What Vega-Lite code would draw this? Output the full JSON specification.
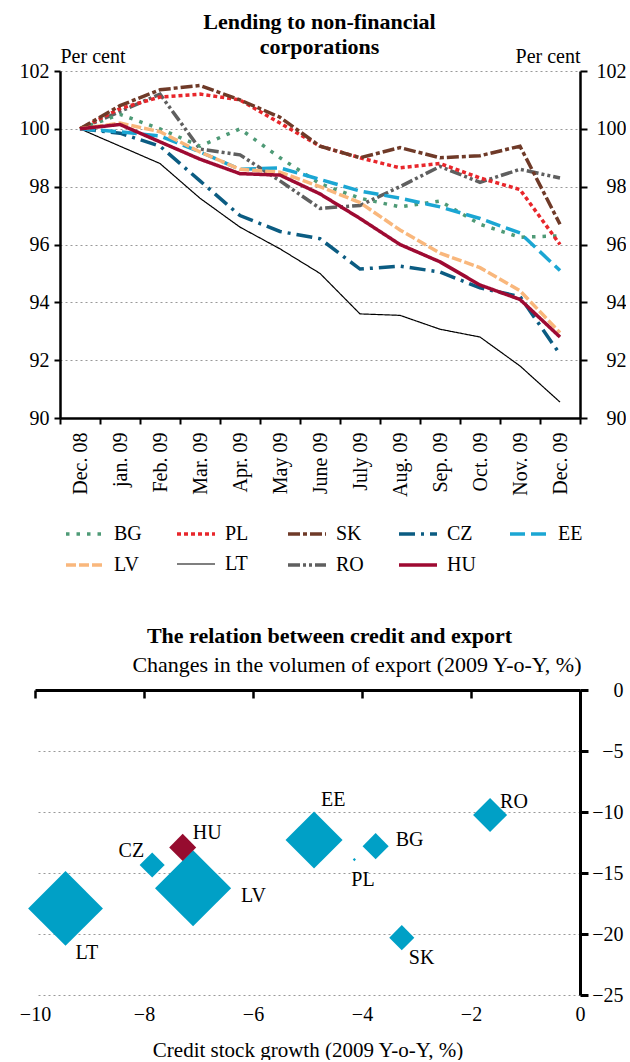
{
  "$schema": "https://vega.github.io/schema/vega-lite/v6.json",
  "padding": {"left": 19, "top": 11, "right": 0, "bottom": 0},
  "autosize": {"type": "pad"},
  "config": {
    "font": "Liberation Serif",
    "view": {"stroke": null},
    "axis": {
      "labelFontSize": 20, "titleFontSize": 20, "labelColor": "#000", "titleColor": "#000",
      "titleFontWeight": "normal", "domainColor": "#000", "tickColor": "#000",
      "gridColor": "#999", "gridDash": [2, 3], "gridWidth": 1, "labelFlush": false, "labelOverlap": false
    },
    "title": {"color": "#000", "font": "Liberation Serif"},
    "text": {"font": "Liberation Serif", "color": "#000"}
  },
  "datasets": {
    "lending": [
      {"month": "Dec. 08", "BG": 100, "PL": 100, "SK": 100, "CZ": 100, "EE": 100, "LV": 100, "LT": 100, "RO": 100, "HU": 100},
      {"month": "jan. 09", "BG": 100.5, "PL": 100.7, "SK": 100.8, "CZ": 99.85, "EE": 99.9, "LV": 100.2, "LT": 99.4, "RO": 100.6, "HU": 100.15},
      {"month": "Feb. 09", "BG": 100.0, "PL": 101.1, "SK": 101.35, "CZ": 99.4, "EE": 99.75, "LV": 99.9, "LT": 98.8, "RO": 101.2, "HU": 99.55},
      {"month": "Mar. 09", "BG": 99.4, "PL": 101.2, "SK": 101.5, "CZ": 98.2, "EE": 99.2, "LV": 99.2, "LT": 97.6, "RO": 99.3, "HU": 98.95},
      {"month": "Apr. 09", "BG": 100.0, "PL": 101.0, "SK": 101.0, "CZ": 97.0, "EE": 98.6, "LV": 98.6, "LT": 96.6, "RO": 99.1, "HU": 98.45},
      {"month": "May 09", "BG": 99.0, "PL": 100.2, "SK": 100.4, "CZ": 96.45, "EE": 98.65, "LV": 98.5, "LT": 95.85, "RO": 98.2, "HU": 98.4},
      {"month": "June 09", "BG": 98.1, "PL": 99.4, "SK": 99.4, "CZ": 96.2, "EE": 98.25, "LV": 98.0, "LT": 95.0, "RO": 97.25, "HU": 97.75},
      {"month": "July 09", "BG": 97.6, "PL": 99.0, "SK": 99.0, "CZ": 95.15, "EE": 97.85, "LV": 97.45, "LT": 93.6, "RO": 97.35, "HU": 96.9},
      {"month": "Aug. 09", "BG": 97.3, "PL": 98.65, "SK": 99.35, "CZ": 95.25, "EE": 97.6, "LV": 96.5, "LT": 93.55, "RO": 98.0, "HU": 96.0},
      {"month": "Sep. 09", "BG": 97.5, "PL": 98.8, "SK": 99.0, "CZ": 95.05, "EE": 97.3, "LV": 95.7, "LT": 93.07, "RO": 98.7, "HU": 95.4},
      {"month": "Oct. 09", "BG": 96.7, "PL": 98.3, "SK": 99.07, "CZ": 94.5, "EE": 96.9, "LV": 95.2, "LT": 92.8, "RO": 98.15, "HU": 94.6},
      {"month": "Nov. 09", "BG": 96.25, "PL": 97.9, "SK": 99.4, "CZ": 94.2, "EE": 96.4, "LV": 94.4, "LT": 91.8, "RO": 98.6, "HU": 94.1},
      {"month": "Dec. 09", "BG": 96.3, "PL": 96.0, "SK": 96.7, "CZ": 92.2, "EE": 95.1, "LV": 92.95, "LT": 90.55, "RO": 98.3, "HU": 92.8}
    ],
    "credit": [
      {"c": "LT", "credit": -9.44, "export": -17.9, "weight": 56},
      {"c": "LV", "credit": -7.1, "export": -16.25, "weight": 58},
      {"c": "CZ", "credit": -7.85, "export": -14.35, "weight": 6.3},
      {"c": "EE", "credit": -4.88, "export": -12.3, "weight": 32.5},
      {"c": "PL", "credit": -4.14, "export": -13.9, "weight": 0.1},
      {"c": "BG", "credit": -3.75, "export": -12.8, "weight": 6.8},
      {"c": "SK", "credit": -3.27, "export": -20.3, "weight": 6.3},
      {"c": "RO", "credit": -1.65, "export": -10.25, "weight": 11.6},
      {"c": "HU", "credit": -7.29, "export": -12.9, "weight": 7.3}
    ]
  },
  "spacing": 128,
  "columns": 1,
  "align": "none",
  "concat": [
    {
      "width": 545,
      "height": 347,
      "title": {"text": ["Lending to non-financial", "corporations"], "fontSize": 22, "fontWeight": "bold", "lineHeight": 25, "anchor": "middle", "frame": "group", "offset": -13, "dx": 12},
      "data": {"name": "lending"},
      "transform": [{"fold": ["LT", "RO", "BG", "PL", "SK", "CZ", "EE", "LV", "HU"], "as": ["country", "value"]}],
      "encoding": {
        "x": {"field": "month", "type": "ordinal",
          "scale": {"type": "band", "paddingInner": 0, "paddingOuter": 0, "range": [25, 545], "domain": ["Dec. 08", "jan. 09", "Feb. 09", "Mar. 09", "Apr. 09", "May 09", "June 09", "July 09", "Aug. 09", "Sep. 09", "Oct. 09", "Nov. 09", "Dec. 09"]},
          "axis": {"title": null, "labelAngle": -90, "tickBand": "extent", "domainWidth": 2.5, "tickWidth": 2, "tickSize": 6, "labelPadding": 8, "grid": false}}
      },
      "layer": [
        {
          "mark": {"type": "line", "strokeCap": "butt", "strokeJoin": "miter"},
          "encoding": {
            "y": {"field": "value", "type": "quantitative", "scale": {"domain": [90, 102], "nice": false, "zero": false},
              "axis": {"orient": "left", "offset": -25, "values": [90, 92, 94, 96, 98, 100, 102], "domainWidth": 2.5, "tickSize": 6, "tickWidth": 2, "labelPadding": 5, "grid": true,
                "title": "Per cent", "titleAngle": 0, "titleAlign": "left", "titleX": 0, "titleY": -9, "titleBaseline": "alphabetic"}},
            "color": {"field": "country", "type": "nominal",
              "scale": {"domain": ["BG", "PL", "SK", "CZ", "EE", "LV", "LT", "RO", "HU"], "range": ["#4e9a76", "#e8262b", "#6f3a28", "#0b5c82", "#1ba6d3", "#f9b77c", "#000000", "#5f5f5f", "#9e0a32"]},
              "legend": {"orient": "none", "legendX": 29, "legendY": 442, "direction": "horizontal", "columns": 5, "title": null, "symbolType": "stroke", "symbolSize": 1444, "labelFontSize": 20, "labelOffset": 8, "columnPadding": 27, "rowPadding": -18, "gridAlign": "all", "labelColor": "#000"}},
            "strokeDash": {"field": "country", "type": "nominal",
              "scale": {"domain": ["BG", "PL", "SK", "CZ", "EE", "LV", "LT", "RO", "HU"], "range": [[3.5, 7], [4, 3], [12, 3, 4, 3], [16, 6, 3, 6], [15, 6], [10, 3], [1, 0], [12, 3, 3, 3, 3, 3], [1, 0]]},
              "legend": {"orient": "none", "legendX": 29, "legendY": 442, "direction": "horizontal", "columns": 5, "title": null, "symbolType": "stroke", "symbolSize": 1444, "labelFontSize": 20, "labelOffset": 8, "columnPadding": 27, "rowPadding": -18, "gridAlign": "all", "labelColor": "#000"}},
            "strokeWidth": {"field": "country", "type": "nominal",
              "scale": {"type": "ordinal", "domain": ["BG", "PL", "SK", "CZ", "EE", "LV", "LT", "RO", "HU"], "range": [3.5, 3.5, 3.5, 3.5, 3.5, 3.5, 1.2, 3.5, 3.5]},
              "legend": {"orient": "none", "legendX": 29, "legendY": 442, "direction": "horizontal", "columns": 5, "title": null, "symbolType": "stroke", "symbolSize": 1444, "labelFontSize": 20, "labelOffset": 8, "columnPadding": 27, "rowPadding": -18, "gridAlign": "all", "labelColor": "#000"}}
          }
        },
        {
          "mark": {"type": "line", "opacity": 0},
          "encoding": {
            "y": {"field": "value", "type": "quantitative",
              "axis": {"orient": "right", "values": [90, 92, 94, 96, 98, 100, 102], "domainWidth": 2.5, "tickSize": 7, "tickWidth": 2, "labelAlign": "right", "labelPadding": 39, "grid": false,
                "title": "Per cent", "titleAngle": 0, "titleAlign": "right", "titleX": 0, "titleY": -9, "titleBaseline": "alphabetic"}},
            "detail": {"field": "country"}
          }
        }
      ],
      "resolve": {"axis": {"y": "independent"}}
    },
    {
      "width": 545,
      "height": 305,
      "title": {"text": "The relation between credit and export", "fontSize": 22, "fontWeight": "bold", "anchor": "middle", "frame": "group", "dx": 22, "offset": 5},
      "data": {"name": "credit"},
      "encoding": {
        "x": {"field": "credit", "type": "quantitative", "scale": {"domain": [-10, 0], "nice": false}, "axis": null},
        "y": {"field": "export", "type": "quantitative", "scale": {"domain": [-25, 0], "nice": false}, "axis": null}
      },
      "layer": [
        {
          "mark": {"type": "point", "shape": "diamond", "filled": true, "opacity": 1, "strokeWidth": 0},
          "encoding": {
            "x": {"field": "credit", "type": "quantitative",
              "axis": {"orient": "bottom", "values": [-10, -8, -6, -4, -2, 0], "domain": false, "ticks": false, "tickSize": 0, "labelPadding": 9, "grid": false,
                "title": "Credit stock growth (2009 Y-o-Y, %)", "titleFontSize": 21, "titlePadding": 15}},
            "y": {"field": "export", "type": "quantitative",
              "axis": {"orient": "right", "values": [0, -5, -10, -15, -20, -25], "domainWidth": 3, "tickSize": 8, "tickWidth": 3, "labelAlign": "right", "labelPadding": 35, "grid": true,
                "title": "Changes in the volumen of export (2009 Y-o-Y, %)", "titleFontSize": 22, "titleAngle": 0, "titleAlign": "right", "titleX": 1, "titleY": -26, "titleBaseline": "middle"}},
            "size": {"field": "weight", "type": "quantitative", "scale": {"domain": [0, 60], "range": [0, 6000]}, "legend": null},
            "color": {"condition": {"test": "datum.c === 'HU'", "value": "#960c2f"}, "value": "#00a0c6"}
          }
        },
        {
          "transform": [{"filter": "datum.c === 'EE'"}],
          "mark": {"type": "text", "align": "left", "baseline": "middle", "dx": 7, "dy": -40, "fontSize": 20},
          "encoding": {
            "text": {"field": "c"},
            "x": {"field": "credit", "type": "quantitative",
              "axis": {"orient": "top", "values": [-10, -8, -6, -4, -2, 0], "domain": true, "domainWidth": 3, "ticks": true, "tickSize": -8, "tickWidth": 2.5, "labels": false, "title": null, "grid": false}}
          }
        },
        {"transform": [{"filter": "datum.c === 'RO'"}], "mark": {"type": "text", "align": "left", "baseline": "middle", "dx": 10, "dy": -13, "fontSize": 20}, "encoding": {"text": {"field": "c"}}},
        {"transform": [{"filter": "datum.c === 'HU'"}], "mark": {"type": "text", "align": "left", "baseline": "middle", "dx": 10, "dy": -14, "fontSize": 20}, "encoding": {"text": {"field": "c"}}},
        {"transform": [{"filter": "datum.c === 'CZ'"}], "mark": {"type": "text", "align": "right", "baseline": "middle", "dx": -8, "dy": -14, "fontSize": 20}, "encoding": {"text": {"field": "c"}}},
        {"transform": [{"filter": "datum.c === 'BG'"}], "mark": {"type": "text", "align": "left", "baseline": "middle", "dx": 20, "dy": -6, "fontSize": 20}, "encoding": {"text": {"field": "c"}}},
        {"transform": [{"filter": "datum.c === 'PL'"}], "mark": {"type": "text", "align": "left", "baseline": "middle", "dx": -3, "dy": 20, "fontSize": 20}, "encoding": {"text": {"field": "c"}}},
        {"transform": [{"filter": "datum.c === 'LV'"}], "mark": {"type": "text", "align": "left", "baseline": "middle", "dx": 48, "dy": 8, "fontSize": 20}, "encoding": {"text": {"field": "c"}}},
        {"transform": [{"filter": "datum.c === 'LT'"}], "mark": {"type": "text", "align": "left", "baseline": "middle", "dx": 10, "dy": 45, "fontSize": 20}, "encoding": {"text": {"field": "c"}}},
        {"transform": [{"filter": "datum.c === 'SK'"}], "mark": {"type": "text", "align": "left", "baseline": "middle", "dx": 7, "dy": 20, "fontSize": 20}, "encoding": {"text": {"field": "c"}}}
      ],
      "resolve": {"axis": {"x": "independent", "y": "independent"}}
    }
  ]
}
